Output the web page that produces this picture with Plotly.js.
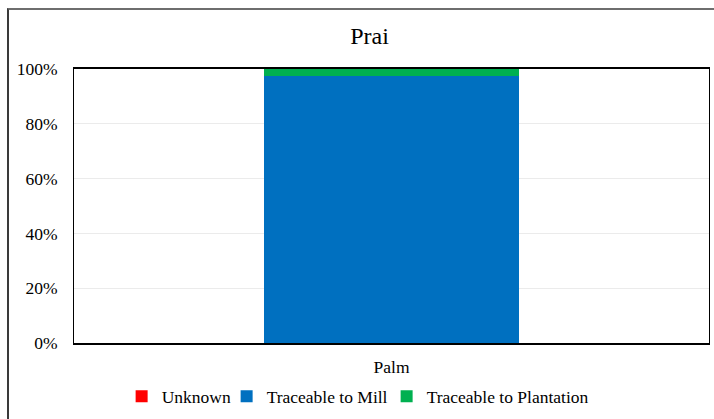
<!DOCTYPE html>
<html>
<head>
<meta charset="utf-8">
<script src="https://cdn.plot.ly/plotly-3.0.1.min.js"></script>
<style>
  html, body { margin: 0; padding: 0; background: #fff; }
  #chart { position: absolute; left: 0; top: 0; width: 714px; height: 419px; }
  #frame { position: absolute; left: 7px; top: 8px; width: 720px; height: 420px;
           border-top: 2px solid #6e6e6e; border-left: 2px solid #3a3a3a; pointer-events: none; }
</style>
</head>
<body>
<div id="chart"></div>
<div id="frame"></div>
<script>
const categories = ["Palm"];
const seriesNames = ["Unknown", "Traceable to Mill", "Traceable to Plantation"];
const unknownValues = [0];
const millValues = [97.5];
const plantationValues = [2.5];
const tickValues = [0, 20, 40, 60, 80, 100];
const tickLabels = ["0%", "20%", "40%", "60%", "80%", "100%"];

const colors = ["#ff0000", "#0070c0", "#00b050"];
const legendWidths = [60, 115, 160];
const values = [unknownValues, millValues, plantationValues];
const font = "'Times New Roman', 'Liberation Serif', Times, serif";

const traces = seriesNames.map((name, i) => ({
  type: "bar",
  name: name,
  x: categories,
  y: values[i],
  marker: { color: colors[i] },
  legendwidth: legendWidths[i],
  hoverinfo: "skip"
}));

const layout = {
  width: 714,
  height: 419,
  barmode: "stack",
  bargap: 0.597,
  margin: { l: 74, r: 5, t: 69, b: 73 },
  paper_bgcolor: "#ffffff",
  plot_bgcolor: "#ffffff",
  font: { family: font, size: 17.5, color: "#000" },
  title: { text: "Prai", x: 0.5175, xanchor: "center", y: 0.914, yanchor: "middle",
           font: { family: font, size: 24, color: "#000" } },
  xaxis: {
    showline: true, linecolor: "#000", linewidth: 2, mirror: true,
    ticks: "", tickfont: { family: font, size: 17.5 }, ticklabelstandoff: 7
  },
  yaxis: {
    range: [0, 100], tickvals: tickValues, ticktext: tickLabels,
    showgrid: true, gridcolor: "#ebebeb", gridwidth: 1,
    showline: true, linecolor: "#000", linewidth: 1, mirror: true,
    zeroline: false, ticks: "", tickfont: { family: font, size: 17.5 }, ticklabelstandoff: 12
  },
  showlegend: true,
  legend: {
    orientation: "h", x: 0.075, xanchor: "left", y: -0.195, yanchor: "middle",
    font: { family: font, size: 17.5 }, traceorder: "normal", itemwidth: 30
  }
};

Plotly.newPlot("chart", traces, layout, { displayModeBar: false, staticPlot: true });
</script>
</body>
</html>
